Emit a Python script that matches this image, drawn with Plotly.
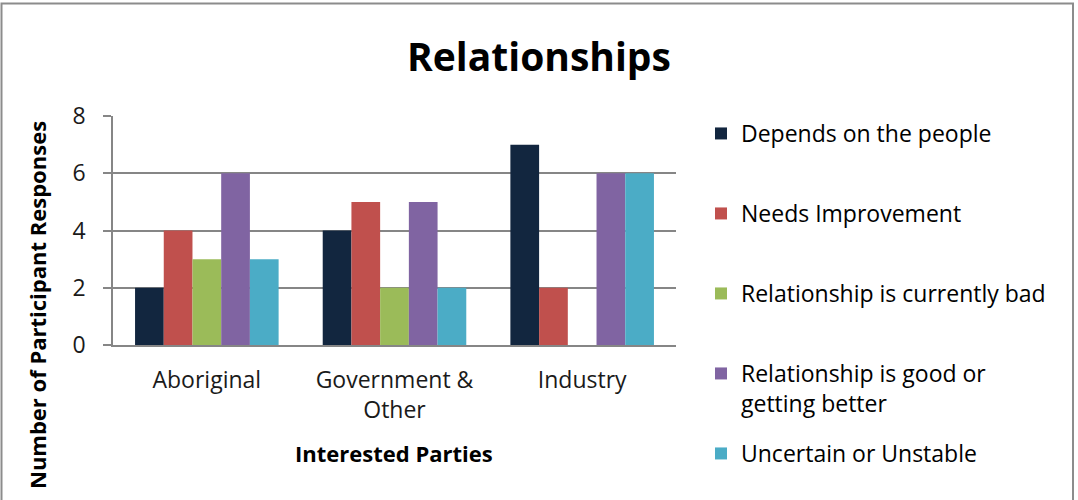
import plotly.graph_objects as go

categories = ["Aboriginal", "Government &<br>Other", "Industry"]
series_names = [
    "Depends on the people",
    "Needs Improvement",
    "Relationship is currently bad",
    "Relationship is good or<br>getting better",
    "Uncertain or Unstable",
]
depends = [2, 4, 7]
needs_improvement = [4, 5, 2]
currently_bad = [3, 2, 0]
good_or_better = [6, 5, 6]
uncertain = [3, 2, 6]
series_values = [depends, needs_improvement, currently_bad, good_or_better, uncertain]
colors = ["#12263F", "#C0504D", "#9BBB59", "#8064A2", "#4BACC6"]
y_ticks = [0, 2, 4, 6, 8]
# legend entry top positions (pixels from top of figure)
legend_tops = [112, 192, 272, 352, 432]

FONT = "Open Sans"
W, H = 1078, 500
L, R, T, B = 113, 402, 116, 155
pw = W - L - R
ph = H - T - B

fig = go.Figure()
legend_layouts = {}
for i, (name, vals, col) in enumerate(zip(series_names, series_values, colors)):
    lname = "legend" if i == 0 else f"legend{i + 1}"
    fig.add_trace(go.Bar(
        x=categories, y=vals, name=name,
        marker=dict(color=col, line=dict(width=0)),
        legend=lname,
    ))
    legend_layouts[lname] = dict(
        x=(701 - L) / pw, xanchor="left",
        y=(H - B - legend_tops[i]) / ph, yanchor="top",
        font=dict(family=FONT, size=23, color="black"),
        bgcolor="rgba(0,0,0,0)", itemwidth=30, valign="top",
    )

fig.update_layout(
    width=W, height=H,
    margin=dict(l=L, r=R, t=T, b=B, autoexpand=False),
    paper_bgcolor="white", plot_bgcolor="white",
    barmode="group", bargap=0.235, bargroupgap=0,
    font=dict(family=FONT, size=23, color="#1a1a1a"),
    title=dict(text="<b>Relationships</b>", x=0.5, xref="container", xanchor="center",
               y=1 - 57 / H, yanchor="middle", yref="container",
               font=dict(family=FONT, size=39, color="black")),
    showlegend=True,
    xaxis=dict(
        showline=True, linecolor="#868686", linewidth=1.5,
        ticks="", showgrid=False,
        tickfont=dict(family=FONT, size=23, color="#1a1a1a"),
        ticklabelstandoff=14,
    ),
    yaxis=dict(
        range=[0, 8], tickvals=y_ticks,
        showline=True, linecolor="#868686", linewidth=1.5,
        ticks="outside", ticklen=8, tickcolor="#868686", tickwidth=1.5,
        showgrid=True, gridcolor="#868686", gridwidth=1.5,
        zeroline=False,
        tickfont=dict(family=FONT, size=23, color="#1a1a1a"),
        ticklabelstandoff=13,
    ),
    annotations=[
        dict(text="<b>Interested Parties</b>", xref="paper", yref="paper",
             x=(394 - L) / pw, y=-(453 - (H - B)) / ph, xanchor="center", yanchor="middle",
             showarrow=False, font=dict(family=FONT, size=22, color="black")),
        dict(text="<b>Number of Participant Responses</b>", xref="paper", yref="paper",
             x=-(L - 37) / pw, y=-(305 - (H - B)) / ph, xanchor="center", yanchor="middle",
             textangle=-90, showarrow=False, font=dict(family=FONT, size=22, color="black")),
    ],
    shapes=[
        dict(type="rect", xref="paper", yref="paper",
             x0=(1.5 - L) / pw, x1=(1073 - L) / pw,
             y0=-(510 - (H - B)) / ph, y1=1 + (T - 3.5) / ph,
             line=dict(color="#8c8c8c", width=2), fillcolor="rgba(0,0,0,0)", layer="below"),
    ],
    **legend_layouts,
)

fig.write_html("out.html", config={"displayModeBar": False},
               post_script="document.body.style.margin='0';")
